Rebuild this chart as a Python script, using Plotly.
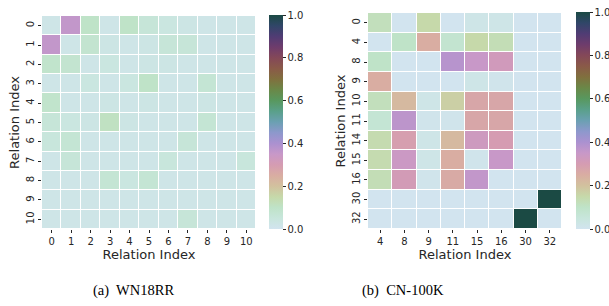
import plotly.graph_objects as go

# ---- data ----
wn_labels = [str(i) for i in range(11)]
wn_values = [
    [0.02, 0.36, 0.10, 0.02, 0.10, 0.06, 0.04, 0.03, 0.02, 0.02, 0.02],
    [0.36, 0.02, 0.08, 0.03, 0.02, 0.03, 0.06, 0.06, 0.02, 0.02, 0.02],
    [0.09, 0.08, 0.02, 0.04, 0.02, 0.03, 0.03, 0.02, 0.02, 0.02, 0.02],
    [0.02, 0.02, 0.04, 0.02, 0.04, 0.10, 0.02, 0.02, 0.07, 0.02, 0.02],
    [0.09, 0.02, 0.02, 0.03, 0.02, 0.03, 0.02, 0.02, 0.03, 0.02, 0.02],
    [0.06, 0.04, 0.03, 0.11, 0.03, 0.02, 0.02, 0.02, 0.07, 0.02, 0.02],
    [0.05, 0.07, 0.02, 0.02, 0.02, 0.02, 0.02, 0.06, 0.02, 0.02, 0.02],
    [0.02, 0.06, 0.02, 0.02, 0.02, 0.02, 0.05, 0.02, 0.02, 0.02, 0.05],
    [0.02, 0.02, 0.02, 0.07, 0.04, 0.07, 0.02, 0.02, 0.02, 0.02, 0.02],
    [0.02, 0.02, 0.02, 0.02, 0.02, 0.02, 0.02, 0.02, 0.02, 0.02, 0.02],
    [0.02, 0.02, 0.02, 0.02, 0.02, 0.02, 0.02, 0.06, 0.02, 0.02, 0.02],
]

cn_rows = ["0", "4", "8", "9", "10", "11", "14", "15", "16", "30", "32"]
cn_cols = ["4", "8", "9", "11", "15", "16", "30", "32"]
cn_values = [
    [0.12, 0.00, 0.15, 0.00, 0.02, 0.02, 0.00, 0.00],
    [0.00, 0.10, 0.25, 0.08, 0.15, 0.13, 0.00, 0.00],
    [0.10, 0.00, 0.00, 0.38, 0.35, 0.32, 0.00, 0.00],
    [0.25, 0.00, 0.00, 0.00, 0.02, 0.01, 0.00, 0.00],
    [0.12, 0.22, 0.02, 0.17, 0.27, 0.27, 0.00, 0.00],
    [0.07, 0.37, 0.01, 0.01, 0.27, 0.27, 0.00, 0.00],
    [0.14, 0.29, 0.02, 0.22, 0.33, 0.30, 0.00, 0.00],
    [0.14, 0.34, 0.02, 0.25, 0.01, 0.35, 0.00, 0.00],
    [0.13, 0.31, 0.01, 0.26, 0.36, 0.00, 0.00, 0.00],
    [0.00, 0.00, 0.00, 0.00, 0.00, 0.00, 0.00, 1.00],
    [0.00, 0.00, 0.00, 0.00, 0.00, 0.00, 1.00, 0.00],
]

captions = ["(a)  WN18RR", "(b)  CN-100K"]
axis_title = "Relation Index"
cbar_ticks = [0.0, 0.2, 0.4, 0.6, 0.8, 1.0]

# ---- style ----
colorscale = [
    [0.00, "#d2e4ef"], [0.05, "#c8e6dc"], [0.10, "#bfe3c8"], [0.15, "#c6d9aa"],
    [0.20, "#d2c19e"], [0.25, "#d9ada2"], [0.30, "#d59cb2"], [0.35, "#c898c8"],
    [0.40, "#ab91d0"], [0.45, "#8d98cc"], [0.50, "#6ba0b2"], [0.55, "#5aa08a"],
    [0.60, "#58985f"], [0.65, "#6a8848"], [0.70, "#80703e"], [0.75, "#8a5a48"],
    [0.80, "#844858"], [0.85, "#6e3c6c"], [0.90, "#503c74"], [0.95, "#304668"],
    [1.00, "#1b4a44"],
]
font_family = "DejaVu Sans"
TXT = "#262626"
W, H = 609, 306

def px_x(v):
    return v / W

def px_y(v):
    return 1 - v / H

def cbar(x0, y0, y1):
    return dict(x=px_x(x0), xanchor="left", y=px_y(y0), yanchor="top",
                len=(y1 - y0) / H, lenmode="fraction", thickness=14,
                xpad=0, ypad=0, outlinewidth=0, ticks="outside", ticklen=3,
                tickwidth=1, tickcolor=TXT,
                tickvals=cbar_ticks, ticktext=[f"{t:.1f}" for t in cbar_ticks],
                tickfont=dict(size=10, color=TXT, family=font_family))

fig = go.Figure()

fig.add_trace(go.Heatmap(
    z=wn_values, x=wn_labels, y=wn_labels, colorscale=colorscale, zmin=0, zmax=1,
    xgap=1, ygap=1, xaxis="x", yaxis="y", colorbar=cbar(269, 15, 229),
))

fig.add_trace(go.Heatmap(
    z=cn_values, x=cn_cols, y=cn_rows, colorscale=colorscale, zmin=0, zmax=1,
    xgap=1, ygap=1, xaxis="x2", yaxis="y2", colorbar=cbar(576, 12, 229),
))

def xa(domain, anchor):
    return dict(domain=domain, anchor=anchor, type="category", showgrid=False,
                zeroline=False, showline=False, ticks="outside", ticklen=3,
                tickcolor=TXT, tickfont=dict(size=10, color=TXT), automargin=False,
                title=dict(text=axis_title, font=dict(size=13, color=TXT), standoff=2))

def ya(domain, anchor):
    return dict(domain=domain, anchor=anchor, type="category", autorange="reversed",
                showgrid=False, zeroline=False, showline=False, ticks="outside",
                ticklen=3, tickcolor=TXT, tickangle=-90, automargin=False,
                tickfont=dict(size=10, color=TXT),
                title=dict(text=axis_title, font=dict(size=13, color=TXT), standoff=2))

fig.update_layout(
    width=W, height=H, margin=dict(l=0, r=0, t=0, b=0, autoexpand=False),
    paper_bgcolor="white", plot_bgcolor="white",
    font=dict(family=font_family),
    xaxis=xa([px_x(42), px_x(256)], "y"),
    yaxis=ya([px_y(229), px_y(16)], "x"),
    xaxis2=xa([px_x(368), px_x(562)], "y2"),
    yaxis2=ya([px_y(229), px_y(13)], "x2"),
    annotations=[
        dict(text=captions[0], x=px_x(133), y=px_y(290), xref="paper", yref="paper",
             xanchor="center", yanchor="middle", showarrow=False,
             font=dict(family="Liberation Serif", size=14.5, color="black")),
        dict(text=captions[1], x=px_x(403), y=px_y(290), xref="paper", yref="paper",
             xanchor="center", yanchor="middle", showarrow=False,
             font=dict(family="Liberation Serif", size=14.5, color="black")),
    ],
)

fig.write_html("out.html", config={"displayModeBar": False},
               post_script="document.body.style.margin='0';")
